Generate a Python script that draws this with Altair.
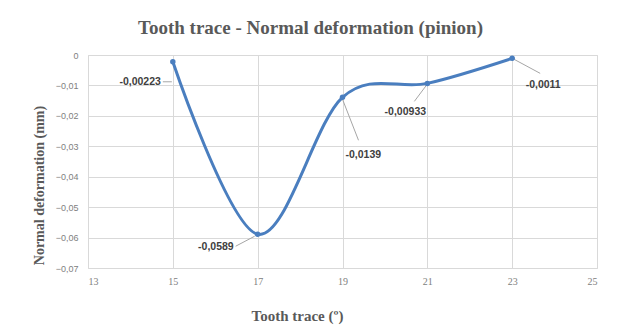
import altair as alt
import pandas as pd

# ---- data ----
x_vals = [15, 17, 19, 21, 23]
y_vals = [-0.00223, -0.0589, -0.0139, -0.00933, -0.0011]
x_ticks = [13, 15, 17, 19, 21, 23, 25]
y_ticks = [0, -0.01, -0.02, -0.03, -0.04, -0.05, -0.06, -0.07]

# ---- styling (pixel offsets for data labels / leader lines) ----
label_style = [("right", -12, 20), ("right", -24, 13), ("left", 3, 58),
               ("center", -22, 29), ("center", 31, 27)]
leader_px = [(-10, 20, -1, 20), (-22, 12, -3, 2), (16, 43, 0, 2),
             (-13, 18, -1, 2), (28, 15, 2, 1)]

W, H = 509, 213
XD = [13, 25]
YD = [-0.07, 0]
px_x = (XD[1] - XD[0]) / W
px_y = (YD[1] - YD[0]) / H

LINE = "#4a7ebf"
GRID = "#d9d9d9"

df = pd.DataFrame({"x": x_vals, "y": y_vals})
df["label"] = [str(v).replace(".", ",") for v in y_vals]

xs = alt.Scale(domain=XD, nice=False, zero=False)
ys = alt.Scale(domain=YD, nice=False, zero=False)

base = alt.Chart(df)

line = base.mark_line(interpolate="cardinal", tension=0, color=LINE, strokeWidth=3).encode(
    x=alt.X("x:Q", scale=xs, axis=alt.Axis(
        values=x_ticks, tickCount=len(x_ticks), title="Tooth trace (º)", grid=True,
        gridColor=GRID, domain=False, ticks=False, labelFont="Liberation Serif",
        labelFontSize=10, labelColor="#808080", labelPadding=8, labelOverlap=False,
        titleFont="Liberation Serif",
        titleFontSize=15, titleFontWeight="bold", titleColor="#595959",
        titlePadding=22, titleX=209)),
    y=alt.Y("y:Q", scale=ys, axis=alt.Axis(
        values=y_ticks, tickCount=len(y_ticks), title="Normal deformation (mm)",
        grid=True, gridColor=GRID,
        domain=False, ticks=False, labelFont="Liberation Sans", labelFontSize=9,
        labelColor="#808080", labelPadding=10, labelOverlap=False,
        labelExpr="datum.value == 0 ? '0' : replace(format(datum.value, '.2f'), '.', ',')",
        titleFont="Liberation Serif", titleFontSize=14, titleFontWeight="bold",
        titleColor="#595959", titlePadding=9, titleY=130, titleAlign="center")),
)

points = base.mark_point(filled=True, size=30, color=LINE, opacity=1).encode(
    x=alt.X("x:Q", scale=xs), y=alt.Y("y:Q", scale=ys))

layers = [line, points]

lead_rows = []
for (xv, yv), (a, b, c, d) in zip(zip(x_vals, y_vals), leader_px):
    lead_rows.append({"x1": xv + a * px_x, "y1": yv - b * px_y,
                      "x2": xv + c * px_x, "y2": yv - d * px_y})
lead_df = pd.DataFrame(lead_rows)
leaders = alt.Chart(lead_df).mark_rule(color="#a6a6a6", strokeWidth=1).encode(
    x=alt.X("x1:Q", scale=xs), y=alt.Y("y1:Q", scale=ys),
    x2="x2:Q", y2="y2:Q")
layers.insert(0, leaders)

for i, (al, dx, dy) in enumerate(label_style):
    t = alt.Chart(df.iloc[[i]]).mark_text(
        align=al, baseline="middle", dx=dx, dy=dy, font="Liberation Sans",
        fontSize=10.5, fontWeight="bold", color="#404040").encode(
        x=alt.X("x:Q", scale=xs), y=alt.Y("y:Q", scale=ys), text="label:N")
    layers.append(t)

chart = alt.layer(*layers).properties(
    width=W, height=H,
    autosize=alt.AutoSizeParams(type="none"),
    padding={"left": 88, "top": 55, "right": 21, "bottom": 58},
    title=alt.TitleParams(
        "Tooth trace - Normal deformation (pinion)", font="Liberation Serif",
        fontSize=19, fontWeight="bold", color="#595959", anchor="middle",
        offset=13, dx=-32),
).configure_view(stroke=GRID, strokeWidth=1).configure(background="white")

chart.save("out.html", embed_options={"renderer": "svg", "actions": False})
